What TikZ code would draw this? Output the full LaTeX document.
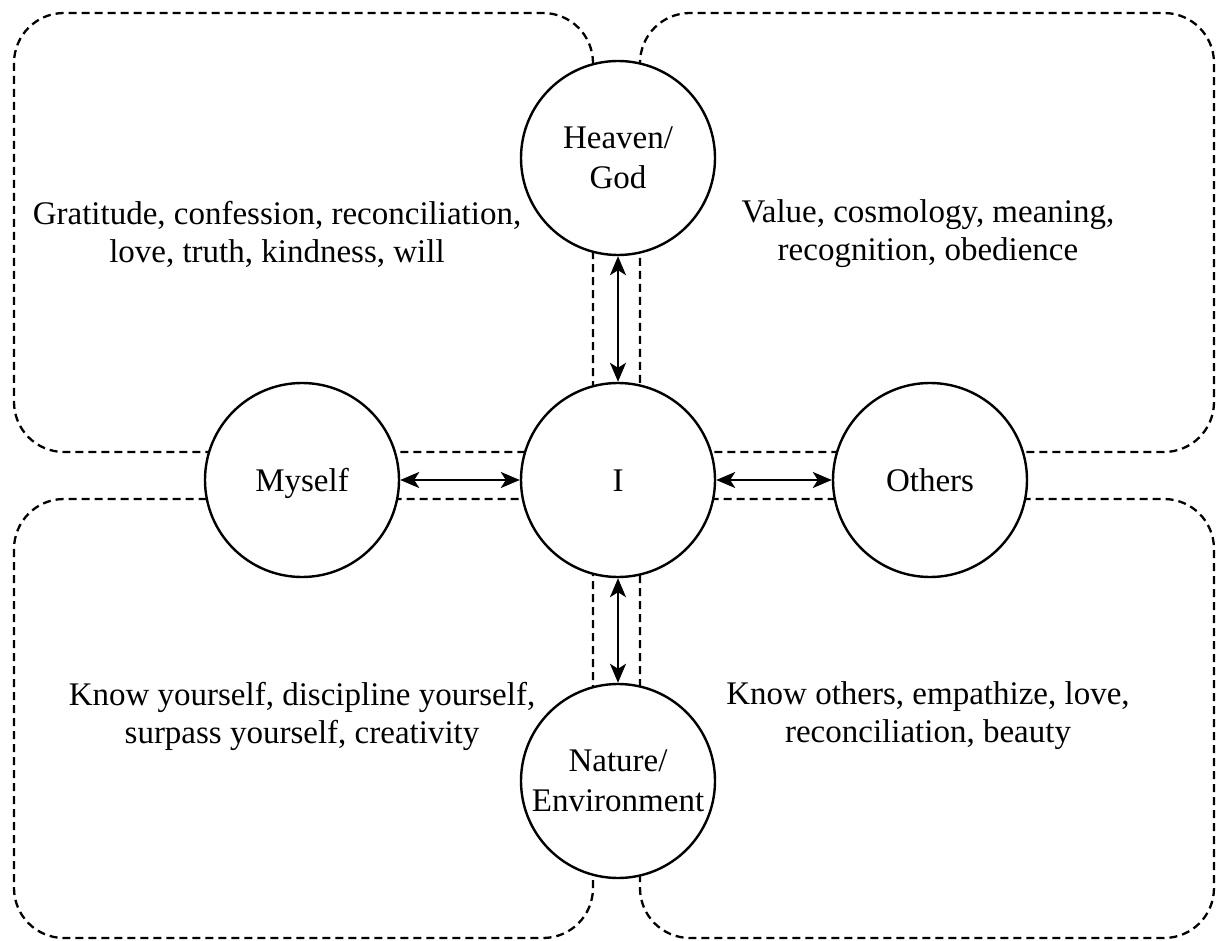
\documentclass[tikz,border=0pt]{standalone}
\usepackage{fontspec}
\setmainfont{Liberation Serif}
\usetikzlibrary{arrows.meta}
\tikzset{
  x=1pt,y=-1pt,
  dbox/.style={draw=black,line width=2.3pt,dash pattern=on 8pt off 5pt,rounded corners=50pt},
  circ/.style={circle,draw=black,line width=2.4pt,fill=white,minimum size=194pt,inner sep=0pt,align=center,font=\fontsize{33}{40}\selectfont},
  oneline/.style={text height=22pt,text depth=0pt},
  lbl/.style={align=center,inner sep=0pt,font=\fontsize{33}{38}\selectfont},
  arr/.style={line width=2.3pt,{Stealth[length=19pt,width=16pt,inset=5pt]}-{Stealth[length=19pt,width=16pt,inset=5pt]}}
}
\begin{document}
\begin{tikzpicture}
\useasboundingbox[fill=white] (0,0) rectangle (1216,941);
% quadrant boxes
\draw[dbox] (14,13) rectangle (593,452);
\draw[dbox] (640,13) rectangle (1214,452);
\draw[dbox] (14,499) rectangle (593,938);
\draw[dbox] (640,499) rectangle (1214,938);
% circles
\node[circ] (heaven) at (618,158) {Heaven/\\God};
\node[circ,oneline] (me) at (618,480) {I};
\node[circ,oneline] (myself) at (302,480) {Myself};
\node[circ,oneline] (others) at (930,480) {Others};
\node[circ] (nature) at (618,781) {Nature/\\Environment};
% arrows
\draw[arr] (heaven) -- (me);
\draw[arr] (myself) -- (me);
\draw[arr] (me) -- (others);
\draw[arr] (me) -- (nature);
% texts
\node[lbl] (tl) at (277,234) {Gratitude, confession, reconciliation,\\love, truth, kindness, will};
\node[lbl] (tr) at (928,234) {Value, cosmology, meaning,\\recognition, obedience};
\node[lbl] (bl) at (302,716) {Know yourself, discipline yourself,\\surpass yourself, creativity};
\node[lbl] (br) at (928,716) {Know others, empathize, love,\\reconciliation, beauty};
\end{tikzpicture}
\end{document}
